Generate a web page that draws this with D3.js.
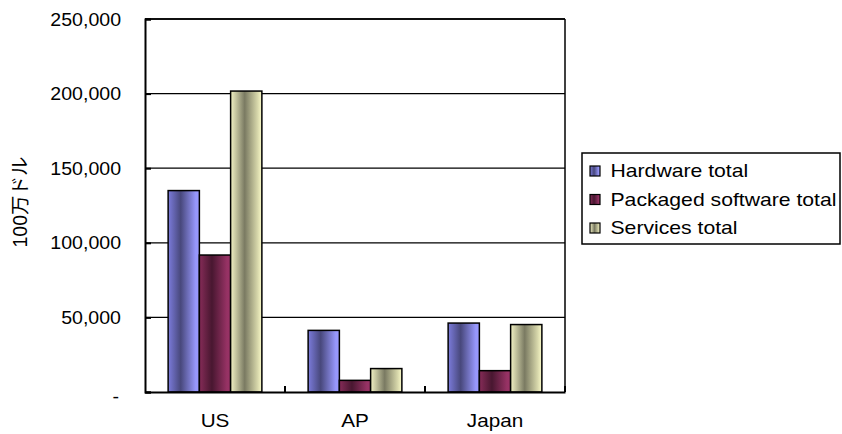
<!DOCTYPE html>
<html><head><meta charset="utf-8">
<script src="https://cdn.jsdelivr.net/npm/d3@7"></script>
<style>body{margin:0;background:#fff}svg{display:block}text{font-family:"Liberation Sans",Arial,sans-serif;fill:#000}</style>
</head><body><svg id="c" width="842" height="434"></svg>
<script>
const categories = ["US", "AP", "Japan"];
const seriesNames = ["Hardware total", "Packaged software total", "Services total"];
const hardware = [135000, 41300, 46200];
const software = [91800, 7800, 14300];
const services = [201700, 15700, 45200];
const yTicks = [0, 50000, 100000, 150000, 200000, 250000];
const yTitle = "100万ドル";

const seriesValues = [hardware, software, services];
const gradStops = [
  [["0%", "#7c7cdc"], ["40%", "#48487c"], ["88%", "#9696fa"], ["100%", "#9a9aff"]],
  [["0%", "#862c58"], ["40%", "#481730"], ["88%", "#963264"], ["100%", "#993366"]],
  [["0%", "#f2f2c4"], ["45%", "#7a7a62"], ["85%", "#d4d4a8"], ["100%", "#fafac8"]]
];

const svg = d3.select("#c");
const defs = svg.append("defs");
gradStops.forEach((stops, i) => {
  const g = defs.append("linearGradient").attr("id", "g" + i)
    .attr("x1", "0%").attr("x2", "100%").attr("y1", "0%").attr("y2", "0%");
  stops.forEach(s => g.append("stop").attr("offset", s[0]).attr("stop-color", s[1]));
});

const L = 145, R = 565, T = 19, B = 392;
const x = d3.scaleBand().domain(categories).range([L, R]).paddingInner(0).paddingOuter(0);
const x1 = d3.scaleBand().domain(seriesNames).range([0, x.bandwidth()]).paddingInner(0).paddingOuter(0.74);
const y = d3.scaleLinear().domain([0, 250000]).range([B, T]);
const fmt = v => v === 0 ? "-" : d3.format(",")(v);
const FONT = '"Liberation Sans",Arial,sans-serif';

// gridlines
svg.append("g").selectAll("line").data(yTicks.filter(t => t > 0)).join("line")
  .attr("x1", L).attr("x2", R).attr("y1", d => y(d)).attr("y2", d => y(d))
  .attr("stroke", "#000").attr("stroke-width", 1.3);

// bars
const rows = categories.map((c, ci) => seriesNames.map((s, si) => ({c, s, si, v: seriesValues[si][ci]})));
svg.append("g").selectAll("g").data(rows).join("g")
  .attr("transform", d => `translate(${x(d[0].c)},0)`)
  .selectAll("rect").data(d => d).join("rect")
  .attr("x", d => x1(d.s)).attr("width", x1.bandwidth())
  .attr("y", d => y(d.v)).attr("height", d => y(0) - y(d.v))
  .attr("fill", d => `url(#g${d.si})`).attr("stroke", "#000").attr("stroke-width", 1.5);

// plot border
svg.append("line").attr("x1", L).attr("x2", R).attr("y1", T).attr("y2", T).attr("stroke", "#000").attr("stroke-width", 1.5);
svg.append("line").attr("x1", R).attr("x2", R).attr("y1", T).attr("y2", B).attr("stroke", "#000").attr("stroke-width", 1.5);

// y axis
const ya = svg.append("g").attr("transform", `translate(${L},0)`)
  .call(d3.axisLeft(y).tickValues(yTicks).tickSize(-6).tickPadding(0).tickFormat(fmt));
ya.select(".domain").attr("stroke-width", 2);
ya.selectAll(".tick line").attr("stroke-width", 2);
ya.selectAll(".tick text").attr("font-size", 19).style("font-family", FONT)
  .attr("x", 0).attr("transform", "translate(-24,0) scale(1.03,1)");
ya.selectAll(".tick").filter(d => d === 0).select("text").attr("dy", "0.55em").attr("transform", "translate(-26,0) scale(1.03,1)");

// x axis
const xa = svg.append("g").attr("transform", `translate(0,${B})`)
  .call(d3.axisBottom(x).tickSize(0).tickPadding(22));
xa.select(".domain").attr("stroke-width", 2);
xa.selectAll(".tick text").attr("font-size", 18.5).style("font-family", FONT)
  .attr("transform", "scale(1.12,1)");
// category separators (inward ticks)
svg.append("g").selectAll("line").data(categories).join("line")
  .attr("x1", d => x(d) + x.bandwidth()).attr("x2", d => x(d) + x.bandwidth())
  .attr("y1", B).attr("y2", B - 6).attr("stroke", "#000").attr("stroke-width", 2);

// y title
svg.append("text").attr("transform", "translate(27,202) rotate(-90)")
  .attr("text-anchor", "middle").attr("font-size", 19.5)
  .style("font-family", '"Liberation Sans","Noto Sans CJK JP",sans-serif').text(yTitle);

// legend
const lg = svg.append("g");
lg.append("rect").attr("x", 582).attr("y", 153).attr("width", 258).attr("height", 91)
  .attr("fill", "#fff").attr("stroke", "#000").attr("stroke-width", 1.5);
const ly = d3.scalePoint().domain(seriesNames).range([171, 228]);
const li = lg.selectAll("g.item").data(seriesNames).join("g").attr("class", "item")
  .attr("transform", d => `translate(590,${ly(d)})`);
li.append("rect").attr("x", 0).attr("y", -5).attr("width", 10).attr("height", 10)
  .attr("fill", (d, i) => `url(#g${i})`).attr("stroke", "#000").attr("stroke-width", 1.2);
li.append("text").attr("x", 0).attr("dy", "0.35em").attr("font-size", 18.5)
  .attr("transform", "translate(20.5,0) scale(1.145,1)").text(d => d);
</script></body></html>
